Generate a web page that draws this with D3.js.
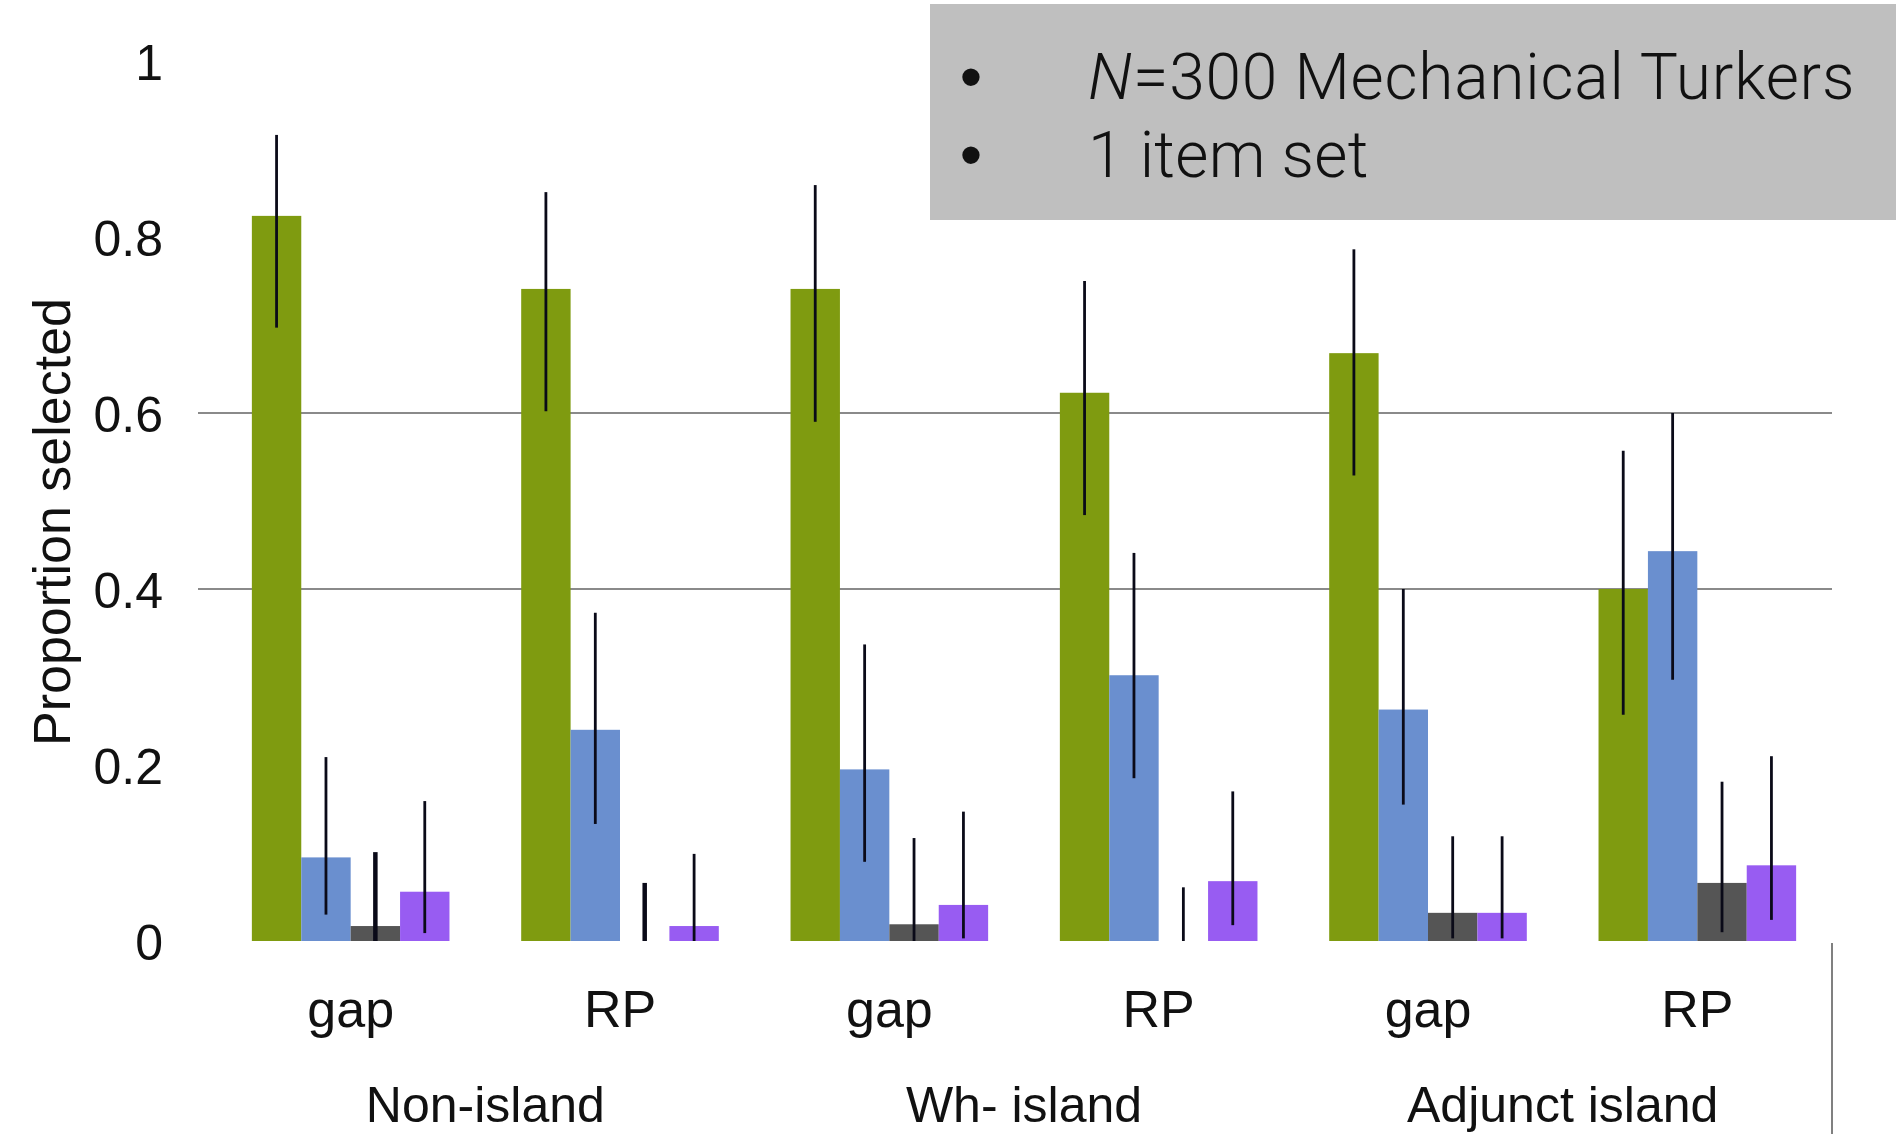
<!DOCTYPE html>
<html>
<head>
<meta charset="utf-8">
<script src="https://cdn.jsdelivr.net/npm/d3@7"></script>
<style>
  html, body { margin: 0; padding: 0; background: #fff; }
  svg { display: block; }
</style>
</head>
<body>
<div id="container"></div>
<script>
/* CONSTANTS AND GLOBALS */
const width = 1896;
const height = 1134;

/* DATA */
const conditions = ["Non-island gap", "Non-island RP", "Wh- island gap", "Wh- island RP", "Adjunct island gap", "Adjunct island RP"];
const subLabels = ["gap", "RP", "gap", "RP", "gap", "RP"];
const groupLabels = ["Non-island", "Wh- island", "Adjunct island"];
const seriesNames = ["s1", "s2", "s3", "s4"];
const seriesColors = ["#7f9b10", "#6a8fcf", "#555555", "#985cf2"];

// proportions per series, one value per condition
const s1Values = [0.824, 0.741, 0.741, 0.623, 0.668, 0.400];
const s2Values = [0.095, 0.240, 0.195, 0.302, 0.263, 0.443];
const s3Values = [0.017, 0.000, 0.019, 0.000, 0.032, 0.066];
const s4Values = [0.056, 0.017, 0.041, 0.068, 0.032, 0.086];

// error bar ends
const s1Hi = [0.916, 0.851, 0.859, 0.750, 0.786, 0.557];
const s1Lo = [0.697, 0.602, 0.590, 0.484, 0.529, 0.257];
const s2Hi = [0.209, 0.373, 0.337, 0.441, 0.400, 0.600];
const s2Lo = [0.030, 0.133, 0.090, 0.185, 0.155, 0.297];
const s3Hi = [0.101, 0.066, 0.117, 0.061, 0.119, 0.181];
const s3Lo = [0.000, 0.000, 0.000, 0.000, 0.003, 0.010];
const s4Hi = [0.159, 0.099, 0.147, 0.170, 0.119, 0.210];
const s4Lo = [0.009, 0.000, 0.003, 0.018, 0.003, 0.024];

const yTicks = [0, 0.2, 0.4, 0.6, 0.8, 1];
const gridTicks = [0.4, 0.6];

const allValues = [s1Values, s2Values, s3Values, s4Values];
const allHi = [s1Hi, s2Hi, s3Hi, s4Hi];
const allLo = [s1Lo, s2Lo, s3Lo, s4Lo];

const data = [];
conditions.forEach((c, i) => {
  seriesNames.forEach((s, j) => {
    data.push({ condition: c, series: s, value: allValues[j][i], hi: allHi[j][i], lo: allLo[j][i], k: j, i: i });
  });
});

/* SCALES */
const xScale = d3.scaleBand()
  .domain(conditions)
  .range([216, 1832])
  .paddingInner(0.2663)
  .paddingOuter(0.13315);

const xInner = d3.scaleBand()
  .domain(seriesNames)
  .range([0, xScale.bandwidth()]);

const yScale = d3.scaleLinear()
  .domain([0, 1])
  .range([941, 61]);

const colorScale = d3.scaleOrdinal()
  .domain(seriesNames)
  .range(seriesColors);

const font = "'Liberation Sans', Arial, Helvetica, sans-serif";

/* HTML ELEMENTS */
const svg = d3.select('#container')
  .append('svg')
  .attr('width', width)
  .attr('height', height)
  .style('font-family', font);

// gridlines (only 0.4 and 0.6 visible)
svg.append('g')
  .selectAll('line')
  .data(gridTicks)
  .join('line')
  .attr('x1', 198)
  .attr('x2', 1832)
  .attr('y1', d => yScale(d))
  .attr('y2', d => yScale(d))
  .attr('stroke', '#8a8a8a')
  .attr('stroke-width', 2);

// right category separator
svg.append('line')
  .attr('x1', 1832).attr('x2', 1832)
  .attr('y1', yScale(0) + 2).attr('y2', height)
  .attr('stroke', '#808080')
  .attr('stroke-width', 2);

// bars
svg.append('g')
  .selectAll('rect')
  .data(data.filter(d => d.value > 0))
  .join('rect')
  .attr('x', d => xScale(d.condition) + xInner(d.series))
  .attr('y', d => yScale(d.value))
  .attr('width', xInner.bandwidth())
  .attr('height', d => yScale(0) - yScale(d.value))
  .attr('fill', d => colorScale(d.series));

// error bars
svg.append('g')
  .selectAll('line')
  .data(data)
  .join('line')
  .attr('x1', d => xScale(d.condition) + xInner(d.series) + xInner.bandwidth() / 2)
  .attr('x2', d => xScale(d.condition) + xInner(d.series) + xInner.bandwidth() / 2)
  .attr('y1', d => yScale(d.hi))
  .attr('y2', d => yScale(d.lo))
  .attr('stroke', '#0a0a18')
  .attr('stroke-width', d => (d.k === 2 && d.i < 2) ? 4.5 : 2.8);

// y axis labels
const yAxis = svg.append('g')
  .attr('transform', 'translate(163,0)')
  .call(d3.axisLeft(yScale).tickValues(yTicks).tickSize(0).tickPadding(0).tickFormat(d3.format('')));
yAxis.select('.domain').remove();
yAxis.selectAll('text')
  .attr('font-size', 50)
  .attr('font-family', font)
  .attr('fill', '#111')
  .attr('dy', '0.37em');

// y title
svg.append('text')
  .attr('transform', 'translate(51,522) rotate(-90)')
  .attr('dy', '0.36em')
  .attr('text-anchor', 'middle')
  .attr('font-size', 52)
  .attr('fill', '#111')
  .text('Proportion selected');

// x sub labels
const xAxis = svg.append('g')
  .attr('transform', 'translate(0,1027)')
  .call(d3.axisBottom(xScale).tickSize(0).tickFormat((d, i) => subLabels[i]));
xAxis.select('.domain').remove();
xAxis.selectAll('text')
  .attr('y', 0)
  .attr('dy', 0)
  .attr('font-size', 52)
  .attr('font-family', font)
  .attr('fill', '#111');

// group labels
svg.append('g')
  .selectAll('text')
  .data(groupLabels)
  .join('text')
  .attr('x', (d, i) => (xScale(conditions[i * 2]) + xScale(conditions[i * 2 + 1]) + xScale.bandwidth()) / 2)
  .attr('y', 1122)
  .attr('text-anchor', 'middle')
  .attr('font-size', 50)
  .attr('fill', '#111')
  .text(d => d);

// overlay note box
const note = svg.append('g');
note.append('rect')
  .attr('x', 930).attr('y', 4)
  .attr('width', width - 930).attr('height', 216)
  .attr('fill', '#bfbfbf');

const noteFont = "Roboto, 'Liberation Sans', sans-serif";
[99, 177].forEach(y => {
  note.append('text')
    .attr('x', 971).attr('y', y)
    .attr('text-anchor', 'middle')
    .attr('font-size', 64)
    .attr('font-family', font)
    .attr('fill', '#111')
    .text('•');
});

const line1 = note.append('text')
  .attr('x', 1088).attr('y', 99)
  .attr('font-size', 64)
  .attr('letter-spacing', 0.8)
  .attr('font-family', noteFont)
  .attr('font-weight', 300)
  .attr('fill', '#111');
line1.append('tspan').attr('font-style', 'italic').text('N');
line1.append('tspan').text('=300 Mechanical Turkers');

note.append('text')
  .attr('x', 1088).attr('y', 177)
  .attr('font-size', 64)
  .attr('letter-spacing', 0.3)
  .attr('font-family', noteFont)
  .attr('font-weight', 300)
  .attr('fill', '#111')
  .text('1 item set');
</script>
</body>
</html>
